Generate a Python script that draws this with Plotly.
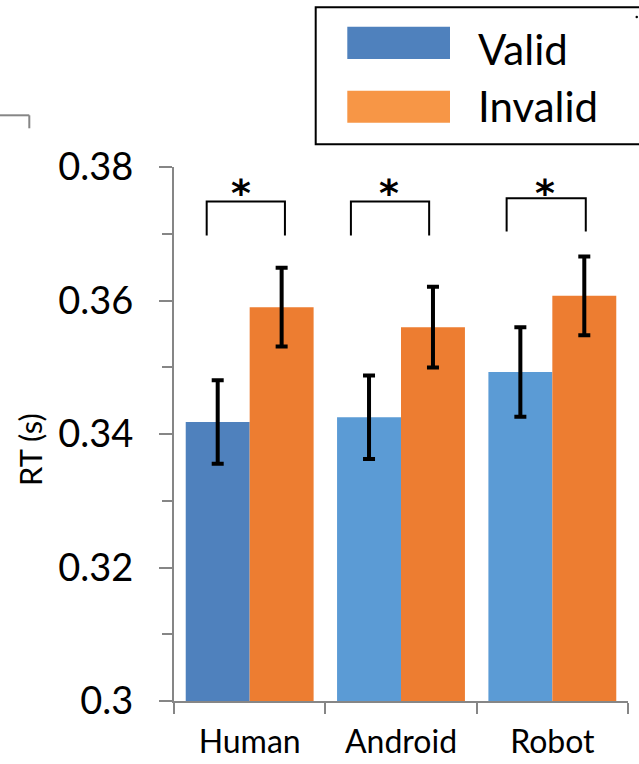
import plotly.graph_objects as go

# ---------------- data ----------------
categories = ["Human", "Android", "Robot"]
valid_rt = [0.3418, 0.3425, 0.3493]
valid_err = [0.00625, 0.00625, 0.0067]
invalid_rt = [0.3590, 0.3560, 0.3607]
invalid_err = [0.0059, 0.00605, 0.0059]
ytick_vals = [0.30, 0.32, 0.34, 0.36, 0.38]
ytick_text = ["0.3", "0.32", "0.34", "0.36", "0.38"]
series_names = ["Valid", "Invalid"]
sig_marks = ["*", "*", "*"]

# ---------------- styles ----------------
FONT = "Lato"
AXIS_GRAY = "#868686"
valid_colors = ["#4F81BD", "#5B9BD5", "#5B9BD5"]
invalid_color = "#ED7D31"
legend_valid_color = "#4F81BD"
legend_invalid_color = "#F79646"

W, H = 639, 764
PL, PR, PT, PB = 174, 628, 167, 701


def px_x(p):
    return (p - PL) / (PR - PL)


def px_y(p):
    return (PB - p) / (PB - PT)


fig = go.Figure()
fig.add_trace(go.Bar(
    x=categories, y=valid_rt, name=series_names[0],
    marker=dict(color=valid_colors, line=dict(width=0)),
    error_y=dict(type="data", array=valid_err, color="black", thickness=4, width=6),
    showlegend=False,
))
fig.add_trace(go.Bar(
    x=categories, y=invalid_rt, name=series_names[1],
    marker=dict(color=invalid_color, line=dict(width=0)),
    error_y=dict(type="data", array=invalid_err, color="black", thickness=4, width=6),
    showlegend=False,
))

shapes = []
annotations = []

# significance brackets (category-index offsets, y in data units)
bracket_left = [-0.284, -0.331, -0.302]
bracket_right = [0.233, 0.186, 0.221]
bracket_top = [0.37485, 0.37485, 0.3753]
bracket_leg = [0.36975, 0.36975, 0.37035]
star_off = [-0.059, -0.08, -0.05]
for i in range(len(categories)):
    xl, xr = i + bracket_left[i], i + bracket_right[i]
    shapes.append(dict(type="path", xref="x", yref="y",
                       path=f"M {xl},{bracket_leg[i]} L {xl},{bracket_top[i]} L {xr},{bracket_top[i]} L {xr},{bracket_leg[i]}",
                       line=dict(color="black", width=2)))
    annotations.append(dict(x=i + star_off[i], y=0.3761, xref="x", yref="y",
                            text=f"<b>{sig_marks[i]}</b>", showarrow=False,
                            font=dict(family="DejaVu Sans", size=38, color="black"),
                            xanchor="center", yanchor="middle"))

# legend (drawn manually)
shapes.append(dict(type="rect", xref="paper", yref="paper",
                   x0=px_x(315.7), x1=px_x(660), y0=px_y(144.3), y1=px_y(7.3),
                   line=dict(color="black", width=2), fillcolor="rgba(0,0,0,0)"))
shapes.append(dict(type="rect", xref="paper", yref="paper",
                   x0=px_x(347.3), x1=px_x(450), y0=px_y(59), y1=px_y(26.7),
                   line=dict(width=0), fillcolor=legend_valid_color))
shapes.append(dict(type="rect", xref="paper", yref="paper",
                   x0=px_x(347.3), x1=px_x(450), y0=px_y(122.7), y1=px_y(90.7),
                   line=dict(width=0), fillcolor=legend_invalid_color))
annotations.append(dict(x=px_x(476), y=px_y(49), xref="paper", yref="paper",
                        text=series_names[0], showarrow=False, xanchor="left", yanchor="middle",
                        font=dict(family=FONT, size=42, color="black")))
annotations.append(dict(x=px_x(476), y=px_y(106), xref="paper", yref="paper",
                        text=series_names[1], showarrow=False, xanchor="left", yanchor="middle",
                        font=dict(family=FONT, size=42, color="black")))

# small cropping artefacts of the original figure
shapes.append(dict(type="line", xref="paper", yref="paper",
                   x0=px_x(-2), x1=px_x(29.3), y0=px_y(115.3), y1=px_y(115.3),
                   line=dict(color=AXIS_GRAY, width=2)))
shapes.append(dict(type="line", xref="paper", yref="paper",
                   x0=px_x(29.3), x1=px_x(29.3), y0=px_y(115.3), y1=px_y(128.3),
                   line=dict(color=AXIS_GRAY, width=2)))
shapes.append(dict(type="circle", xref="paper", yref="paper",
                   x0=px_x(635.5), x1=px_x(638), y0=px_y(18.3), y1=px_y(15.8),
                   line=dict(width=0), fillcolor="black"))

# y axis title
annotations.append(dict(x=px_x(30), y=px_y(450), xref="paper", yref="paper",
                        text="RT (s)", showarrow=False, textangle=-90,
                        font=dict(family=FONT, size=31, color="black"),
                        xanchor="center", yanchor="middle"))

fig.update_layout(
    width=W, height=H,
    margin=dict(l=PL, r=W - PR, t=PT, b=H - PB, pad=0, autoexpand=False),
    paper_bgcolor="white", plot_bgcolor="white",
    barmode="group", bargap=0.155, bargroupgap=0,
    font=dict(family=FONT, color="black"),
    shapes=shapes, annotations=annotations,
    showlegend=False,
)
fig.update_xaxes(
    type="category", range=[-0.5, 2.5], automargin=False,
    showline=True, linecolor=AXIS_GRAY, linewidth=2,
    ticks="outside", tickson="boundaries", ticklen=11, tickwidth=2, tickcolor=AXIS_GRAY,
    tickfont=dict(family=FONT, size=32, color="black"),
    showgrid=False, zeroline=False, ticklabelstandoff=12,
)
fig.update_yaxes(
    range=[0.3, 0.38], automargin=False,
    tickvals=ytick_vals, ticktext=ytick_text,
    showline=True, linecolor=AXIS_GRAY, linewidth=2,
    ticks="outside", ticklen=13, tickwidth=2, tickcolor=AXIS_GRAY,
    minor=dict(dtick=0.01, tick0=0.3, ticks="outside", ticklen=10, tickwidth=2, tickcolor=AXIS_GRAY),
    tickfont=dict(family=FONT, size=38, color="black"),
    showgrid=False, zeroline=False, ticklabelstandoff=18,
)

fig.write_html("out.html")
